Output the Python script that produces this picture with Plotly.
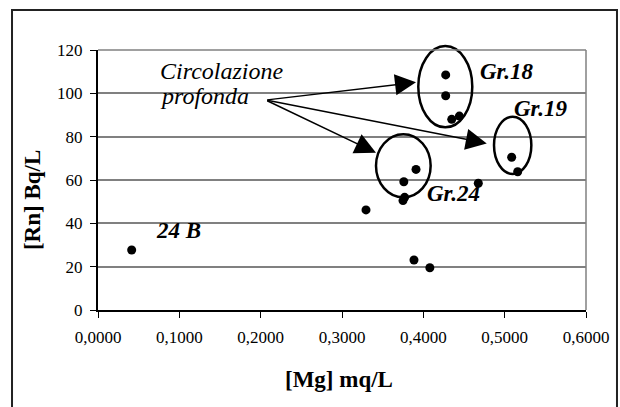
import plotly.graph_objects as go

# Data
mg = [0.0414, 0.3295, 0.3760, 0.3750, 0.3770, 0.3910, 0.3885, 0.4080, 0.4275, 0.4275, 0.4349, 0.4443, 0.4676, 0.5086, 0.5160]
rn = [27.7, 46.2, 59.2, 50.5, 52.0, 64.9, 23.1, 19.5, 108.5, 98.9, 88.0, 89.5, 58.5, 70.5, 63.8]

x_ticks = [0.0, 0.1, 0.2, 0.3, 0.4, 0.5, 0.6]
y_ticks = [0, 20, 40, 60, 80, 100, 120]
X_RANGE = [0, 0.6]
Y_RANGE = [0, 120]

# group ellipses (data bounds): x0, x1, y0, y1
groups = {
    "Gr.18": (0.3938, 0.4602, 84.3, 121.8),
    "Gr.24": (0.3418, 0.4090, 52.0, 81.1),
    "Gr.19": (0.4869, 0.5328, 62.8, 89.2),
}
group_labels = [("Gr.18", 0.5029, 110.1), ("Gr.19", 0.5447, 93.1), ("Gr.24", 0.4365, 53.6)]
label_24b = ("24 B", 0.0992, 36.7)

arrow_origin = (0.2062, 96.9)
arrow_tips = [(0.3910, 105.1), (0.4780, 76.9), (0.3418, 72.6)]

SERIF = "Liberation Serif"

fig = go.Figure()
fig.add_trace(go.Scatter(x=mg, y=rn, mode="markers",
                         marker=dict(color="black", size=9), showlegend=False,
                         cliponaxis=False))


def px(v):
    return (v - X_RANGE[0]) / (X_RANGE[1] - X_RANGE[0])


def py(v):
    return (v - Y_RANGE[0]) / (Y_RANGE[1] - Y_RANGE[0])


shapes = []
for name, (x0, x1, y0, y1) in groups.items():
    shapes.append(dict(type="circle", xref="paper", yref="paper",
                       x0=px(x0), x1=px(x1), y0=py(y0), y1=py(y1),
                       line=dict(color="black", width=2.5)))
# plot-area right and top border (gray)
shapes.append(dict(type="line", xref="paper", yref="paper", x0=1, x1=1, y0=0, y1=1,
                   line=dict(color="#808080", width=1.5)))
shapes.append(dict(type="line", xref="paper", yref="paper", x0=0, x1=1, y0=1, y1=1,
                   line=dict(color="#808080", width=1.5)))
# outer frame
shapes.append(dict(type="rect", xref="paper", yref="paper",
                   x0=-0.1762, x1=1.0635, y0=-0.45, y1=1.1538,
                   line=dict(color="#222222", width=2)))

annotations = []
for tx, ty in arrow_tips:
    annotations.append(dict(x=tx, y=ty, ax=arrow_origin[0], ay=arrow_origin[1],
                            xref="x", yref="y", axref="x", ayref="y",
                            text="", showarrow=True, arrowhead=2, arrowsize=2.8,
                            arrowwidth=1.5, arrowcolor="black", standoff=0))
annotations.append(dict(x=0.0738, y=110.1, xref="x", yref="y", text="<i>Circolazione</i>",
                        showarrow=False, xanchor="left", yanchor="middle",
                        font=dict(family=SERIF, size=24, color="black")))
annotations.append(dict(x=0.0738, y=98.7, xref="x", yref="y", text="<i>profonda</i>",
                        showarrow=False, xanchor="left", yanchor="middle",
                        font=dict(family=SERIF, size=24, color="black")))
for txt, lx, ly in group_labels + [label_24b]:
    annotations.append(dict(x=lx, y=ly, xref="x", yref="y", text="<b><i>%s</i></b>" % txt,
                            showarrow=False, xanchor="center", yanchor="middle",
                            font=dict(family=SERIF, size=23, color="black")))
annotations.append(dict(x=0.4939, y=-0.269, xref="paper", yref="paper",
                        text="<b>[Mg] mq/L</b>", showarrow=False,
                        xanchor="center", yanchor="middle",
                        font=dict(family=SERIF, size=23, color="black")))
annotations.append(dict(x=-0.1352, y=0.423, xref="paper", yref="paper",
                        text="<b>[Rn] Bq/L</b>", showarrow=False, textangle=-90,
                        xanchor="center", yanchor="middle",
                        font=dict(family=SERIF, size=23, color="black")))

fig.update_layout(
    width=620, height=407,
    margin=dict(l=98, r=34, t=50, b=97),
    paper_bgcolor="white", plot_bgcolor="white",
    separators=", ",
    shapes=shapes, annotations=annotations,
    font=dict(family=SERIF, color="black"),
    xaxis=dict(range=X_RANGE, tickvals=x_ticks, tickformat=".4f",
               showgrid=False, zeroline=False, showline=True, linecolor="black",
               linewidth=2, ticks="outside", ticklen=6, tickcolor="black", tickwidth=1,
               ticklabelstandoff=5,
               tickfont=dict(family=SERIF, size=17, color="black")),
    yaxis=dict(range=Y_RANGE, tickvals=y_ticks, showgrid=True, gridcolor="#808080",
               gridwidth=1.5, zeroline=False, showline=True, linecolor="black",
               linewidth=2, ticks="outside", ticklen=6, tickcolor="black", tickwidth=1,
               ticklabelstandoff=4,
               tickfont=dict(family=SERIF, size=17, color="black")),
)

fig.write_html("out.html", config={"displayModeBar": False},
               post_script="document.body.style.margin='0';document.body.style.overflow='hidden';")
